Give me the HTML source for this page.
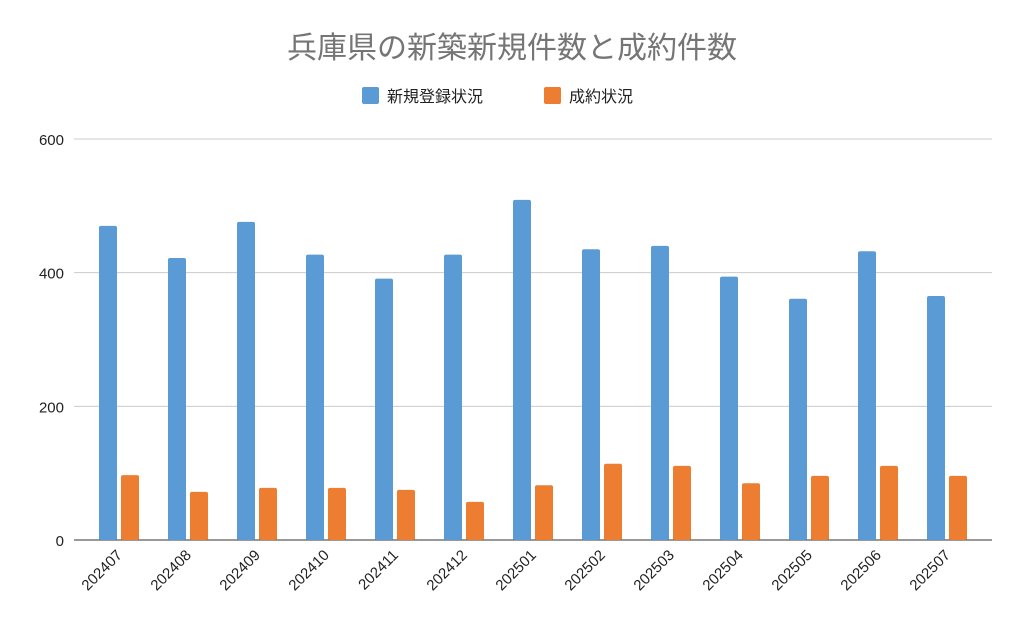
<!DOCTYPE html>
<html><head><meta charset="utf-8"><style>
body{margin:0;background:#fff;width:1024px;height:633px;overflow:hidden}
svg text{font-family:"Liberation Sans","Noto Sans CJK JP",sans-serif}
</style></head><body>
<svg id="chart" width="1024" height="633">
<text x="512" y="58" text-anchor="middle" font-size="30" fill="#757575">兵庫県の新築新規件数と成約件数</text>
<g>
<rect x="362" y="87" width="17" height="17" rx="2" fill="#5b9bd5"/>
<text x="387" y="102" font-size="16" fill="#222">新規登録状況</text>
<rect x="544" y="87" width="17" height="17" rx="2" fill="#ed7d31"/>
<text x="569" y="102" font-size="16" fill="#222">成約状況</text>
</g>
<g id="grid"></g><g id="bars"></g><g id="labels"></g>
</svg>
<script>
const categories=["202407","202408","202409","202410","202411","202412","202501","202502","202503","202504","202505","202506","202507"];
const newListings=[470,422,476,427,391,427,509,435,440,394,361,432,365];
const closedDeals=[97,72,78,78,75,57,82,114,111,85,96,111,96];
const yTicks=[0,200,400,600];
const NS="http://www.w3.org/2000/svg";
const svg=document.getElementById('chart');
const x0=84.5,x1=981.5,yBase=540,yTop=139,yMax=600;
const y=v=>yBase-(v/yMax)*(yBase-yTop);
const step=(x1-x0)/categories.length;
const cx=i=>x0+step*(i+0.5);
function mk(t,a,p){const e=document.createElementNS(NS,t);for(const k in a)e.setAttribute(k,a[k]);p.appendChild(e);return e;}
const g=document.getElementById('grid');
yTicks.forEach(v=>{
 const l=mk('line',{x1:74,x2:992,y1:y(v),y2:y(v),stroke:v===0?'#333':'#ccc','stroke-width':1},g);
 
 
 const t=mk('text',{x:64,y:y(v)+6,'text-anchor':'end','font-size':15,fill:'#222'},g);
 t.textContent=v;
 
 
});
const b=document.getElementById('bars'),lb=document.getElementById('labels');
categories.forEach((c,i)=>{
 const c0=cx(i);
 const r1=mk('rect',{x:c0-20,y:y(newListings[i]),width:18,height:yBase-y(newListings[i]),fill:'#5b9bd5',rx:2},b);
 
 
 const r2=mk('rect',{x:c0+2,y:y(closedDeals[i]),width:18,height:yBase-y(closedDeals[i]),fill:'#ed7d31',rx:2},b);
 
 
 const t=mk('text',{x:c0+4,y:556,'text-anchor':'end','font-size':15,fill:'#222',transform:`rotate(-45 ${c0+4} 556)`},lb);
 t.textContent=c;
 
 
});
</script>
</body></html>
